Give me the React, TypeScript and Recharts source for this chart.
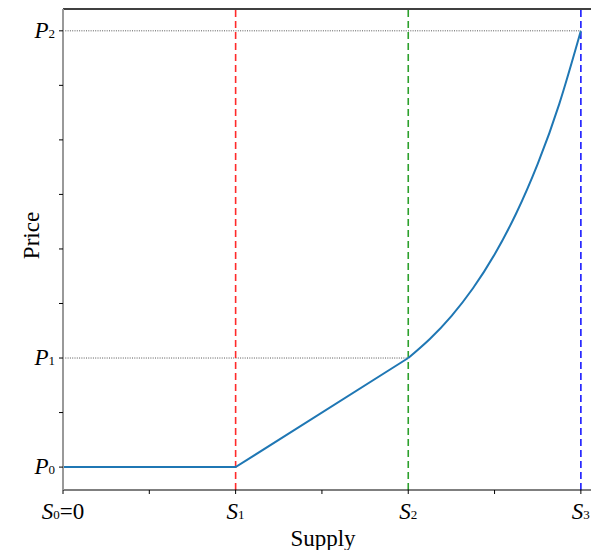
import React from 'react';
import { LineChart, Line, XAxis, YAxis, ReferenceLine, Label } from 'recharts';

// Supply axis
const supplyTicks = [0, 1, 2, 3, 4, 5, 6];
const supplyLabelValues = [0, 2, 4, 6];
const supplyLabelSubs = ['0', '1', '2', '3'];
const supplyDomain = [0, 6.21];

// Price axis
const priceTicks = [1, 2, 3, 4, 5, 6, 7, 8, 9];
const priceLabelValues = [1, 3, 9];
const priceLabelSubs = ['0', '1', '2'];
const priceDomain = [0.58, 9.4];

// Piecewise-linear part (flat, then linear)
const linearSupply = [0, 2, 4];
const linearPrice = [1, 1, 3];

// Convex part
const curveSupply = [4, 4.25, 4.5, 4.75, 5, 5.25, 5.5, 5.75, 6];
const curvePrice = [3, 3.35, 3.77, 4.28, 4.9, 5.65, 6.56, 7.66, 9];

// Vertical dashed lines
const vlineSupply = [2, 4, 6];
const vlineColors = ['#ff2a2a', '#2ca02c', '#1a1aff'];

// Horizontal dotted guides: [price, supply end]
const hlinePrice = [3, 9];
const hlineEnd = [4, 6];

const linearData = linearSupply.map((s, i) => ({ s, p: linearPrice[i] }));
const curveData = curveSupply.map((s, i) => ({ s, p: curvePrice[i] }));

const FONT = '"Liberation Serif", "DejaVu Serif", serif';

const XTick = (props: any) => {
  const { x, y, payload } = props;
  const idx = supplyLabelValues.indexOf(payload.value);
  if (idx < 0) return null;
  const sub = supplyLabelSubs[idx];
  const isZero = payload.value === 0;
  return (
    <text x={x} y={y + 23} textAnchor="middle" fontFamily={FONT} fontSize={23} fill="#000">
      <tspan fontStyle="italic">S</tspan>
      <tspan fontSize={13} dy={0}>{sub}</tspan>
      {isZero ? <tspan>=0</tspan> : null}
    </text>
  );
};

const YTick = (props: any) => {
  const { x, y, payload } = props;
  const idx = priceLabelValues.indexOf(payload.value);
  if (idx < 0) return null;
  const sub = priceLabelSubs[idx];
  return (
    <text x={x - 2} y={y + 7} textAnchor="end" fontFamily={FONT} fontSize={23} fill="#000">
      <tspan fontStyle="italic">P</tspan>
      <tspan fontSize={13} dy={0}>{sub}</tspan>
    </text>
  );
};

const SupplyLabel = (props: any) => {
  const { viewBox } = props;
  const cx = viewBox.x + viewBox.width / 2 - 8;
  return (
    <text x={cx} y={viewBox.y + 56} textAnchor="middle" fontFamily={FONT} fontSize={23} fill="#000">
      Supply
    </text>
  );
};

const PriceLabel = (props: any) => {
  const { viewBox } = props;
  const cy = viewBox.y + viewBox.height / 2 - 14;
  const cx = 23;
  return (
    <text x={cx} y={cy} textAnchor="middle" fontFamily={FONT} fontSize={23} fill="#000"
      transform={`rotate(-90, ${cx}, ${cy})`} dominantBaseline="central">
      Price
    </text>
  );
};

export default function App() {
  return (
    <div style={{ width: 591, height: 542 }}>
      <LineChart width={591} height={542} margin={{ top: 1, right: 0, bottom: 0, left: 0 }}>
        <XAxis
          dataKey="s"
          type="number"
          domain={supplyDomain}
          ticks={supplyTicks}
          tick={<XTick />}
          tickSize={4}
          tickLine={{ stroke: '#000' }}
          axisLine={{ stroke: '#000', strokeWidth: 1.2 }}
          height={60}
          allowDataOverflow
          interval={0}
        >
          <Label content={<SupplyLabel />} />
        </XAxis>
        <YAxis
          type="number"
          domain={priceDomain}
          ticks={priceTicks}
          tick={<YTick />}
          tickSize={4}
          tickLine={{ stroke: '#000' }}
          axisLine={{ stroke: '#999', strokeWidth: 2 }}
          width={55}
          allowDataOverflow
          interval={0}
        >
          <Label content={<PriceLabel />} />
        </YAxis>
        <ReferenceLine y={priceDomain[1]} stroke="#000" strokeWidth={1.5} />
        {hlinePrice.map((p, i) => (
          <ReferenceLine
            key={'h' + i}
            segment={[{ x: 0, y: p }, { x: hlineEnd[i], y: p }]}
            stroke="#555"
            strokeWidth={1}
            strokeDasharray="1 1.3"
          />
        ))}
        {vlineSupply.map((s, i) => (
          <ReferenceLine
            key={'v' + i}
            x={s}
            stroke={vlineColors[i]}
            strokeWidth={1.6}
            strokeDasharray="7 4"
          />
        ))}
        <Line
          data={linearData}
          dataKey="p"
          type="linear"
          stroke="#1f77b4"
          strokeWidth={2}
          dot={false}
          isAnimationActive={false}
        />
        <Line
          data={curveData}
          dataKey="p"
          type="natural"
          stroke="#1f77b4"
          strokeWidth={2}
          dot={false}
          isAnimationActive={false}
        />
      </LineChart>
    </div>
  );
}
